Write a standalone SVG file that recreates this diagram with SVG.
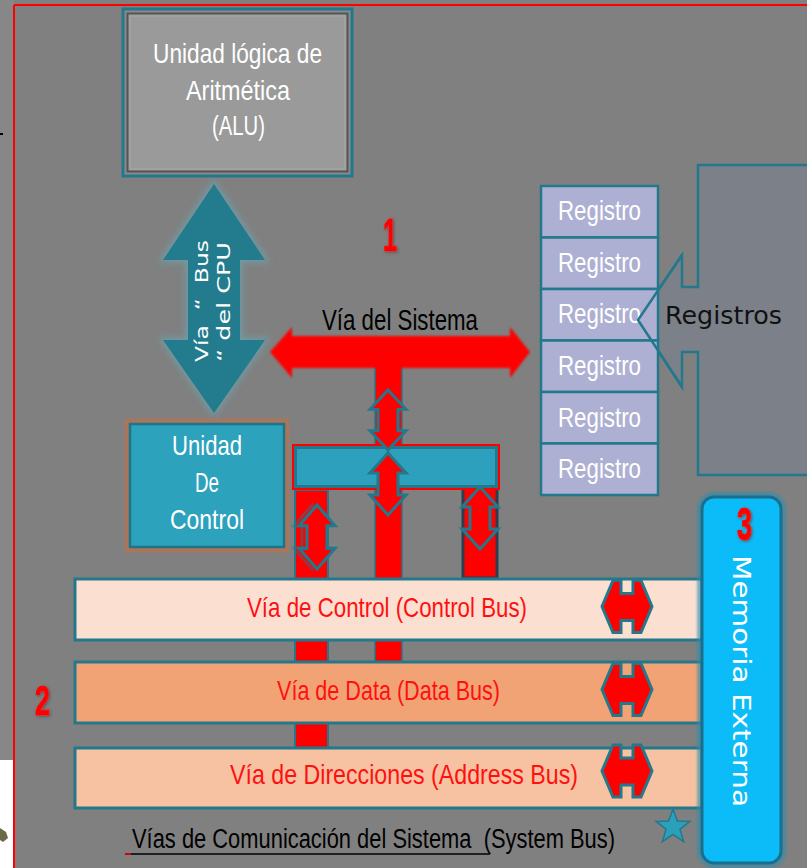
<svg xmlns="http://www.w3.org/2000/svg" width="807" height="868" viewBox="0 0 807 868">
<style>
.cond{font-family:"Liberation Sans Narrow","Liberation Sans",Arial,sans-serif}
.wide{font-family:"DejaVu Sans","Verdana",sans-serif}
.wt{fill:#ffffff}
.rt{fill:#ff1010}
.num{font-weight:bold;fill:#ff0000;stroke:#ff0000;stroke-width:1.2}
.bus{stroke:#23788c;stroke-width:3}
.reg{fill:#adb0d2;stroke:#23788c;stroke-width:2.5}
.sarrow{fill:#ff0000;stroke:#23788c;stroke-width:3;stroke-linejoin:miter}
</style>
<defs>
<filter id="blur1" x="-10%" y="-10%" width="120%" height="120%"><feGaussianBlur stdDeviation="1"/></filter>
<filter id="glow" x="-20%" y="-20%" width="140%" height="140%"><feGaussianBlur stdDeviation="3"/></filter>
<filter id="shadow" x="-30%" y="-30%" width="160%" height="160%"><feGaussianBlur in="SourceAlpha" stdDeviation="1.5" result="b"/><feOffset dx="1" dy="1" result="o"/><feFlood flood-color="#555"/><feComposite in2="o" operator="in"/><feMerge><feMergeNode/><feMergeNode in="SourceGraphic"/></feMerge></filter>
<path id="vdbl" d="M0,-31 L18,-11 L10,-11 L10,11 L18,11 L0,31 L-18,11 L-10,11 L-10,-11 L-18,-11 Z"/>
<path id="busarrow" d="M-6,-26 L-6,-13 L6,-13 L6,-26 L14,-26 L25,0 L14,26 L6,26 L6,14 L-6,14 L-6,26 L-14,26 L-25,0 L-14,-26 Z"/>
</defs>

<!-- background -->
<rect x="0" y="0" width="807" height="868" fill="#808080"/>
<rect x="0" y="0" width="14" height="868" fill="#878787"/>
<rect x="0" y="760" width="13" height="108" fill="#ffffff"/>
<path d="M0,828 L6,832 L8,838 L3,842 L0,840 Z" fill="#6b6b4a"/>
<line x1="0" y1="134" x2="3" y2="134" stroke="#000" stroke-width="2"/>
<line x1="14" y1="5" x2="807" y2="5" stroke="#ff0000" stroke-width="2"/>
<line x1="14" y1="5" x2="14" y2="868" stroke="#ff0000" stroke-width="2"/>

<!-- Registros callout -->
<g id="registros-callout">
<path d="M812,165 L698,165 L698,287 L682,287 L682,255 L638,320 L682,387 L682,352 L698,352 L698,475 L812,475" fill="#7c8088" stroke="#23788c" stroke-width="2.5"/>
<text class="wide" x="665" y="324" font-size="24" fill="#111" textLength="117" lengthAdjust="spacingAndGlyphs">Registros</text>
</g>

<!-- connectors -->
<g id="connectors">
<rect x="295" y="490" width="33" height="258" fill="#ff0000" stroke="#23788c" stroke-width="2"/>
<rect x="375" y="365" width="27" height="297" fill="#ff0000" stroke="#23788c" stroke-width="1.5"/>
<rect x="463" y="488" width="34" height="90" fill="#ff0000" stroke="#2d3e50" stroke-width="3"/>
<path d="M270,352 L292,327 L292,336 L510,336 L510,327 L530,352 L510,378 L510,368 L402,368 L375,368 L292,368 L292,378 Z" fill="#ff0000" filter="url(#blur1)"/>
<rect x="376" y="360" width="25" height="12" fill="#ff0000"/>
<g id="cpu-bus">
<path d="M214,184 L265,260 L240,260 L240,340 L265,340 L214,413 L163,340 L188,340 L188,260 L163,260 Z" fill="#6f9aa3" stroke="#6f9aa3" stroke-width="5" filter="url(#glow)"/>
<path d="M214,184 L265,260 L240,260 L240,340 L265,340 L214,413 L163,340 L188,340 L188,260 L163,260 Z" fill="#237b8e"/>
<text class="wide wt" transform="translate(208,362) rotate(-90)" font-size="18" textLength="122" lengthAdjust="spacingAndGlyphs" xml:space="preserve">Vía  “  Bus</text>
<text class="wide wt" transform="translate(230,362) rotate(-90)" font-size="18" textLength="120" lengthAdjust="spacingAndGlyphs">“ del CPU</text>
</g>
<g id="interface-bar">
<rect x="292" y="444" width="208" height="46" fill="#ff0000"/>
<rect x="295.5" y="447.5" width="201" height="39" fill="#2ca0bc" stroke="#23788c" stroke-width="3"/>
</g>
<use href="#vdbl" class="sarrow" transform="translate(388,420) scale(1,0.97)"/>
<use href="#vdbl" class="sarrow" transform="translate(388,484)"/>
<use href="#vdbl" class="sarrow" transform="translate(312,537) scale(1,1.03)" opacity="0.45"/>
<use href="#vdbl" class="sarrow" transform="translate(317,537) scale(1,1.03)"/>
<use href="#vdbl" class="sarrow" transform="translate(480,518)"/>
</g>

<!-- ALU -->
<g id="alu">
<rect x="123" y="9" width="229" height="167" fill="#8a8a8a" stroke="#23788c" stroke-width="3"/>
<rect x="127.5" y="13.5" width="220" height="158" fill="#9a9a9a" stroke="#555" stroke-width="2"/>
<rect x="130" y="16" width="215" height="153" fill="none" stroke="#a8a8a8" stroke-width="1"/>
<text class="cond wt" x="153" y="63" font-size="28" textLength="169" lengthAdjust="spacingAndGlyphs">Unidad lógica de</text>
<text class="cond wt" x="186" y="100" font-size="28" textLength="104" lengthAdjust="spacingAndGlyphs">Aritmética</text>
<text class="cond wt" x="212" y="135" font-size="28" textLength="53" lengthAdjust="spacingAndGlyphs">(ALU)</text>
</g>

<text class="cond num" x="383" y="251" font-size="46" textLength="14" lengthAdjust="spacingAndGlyphs" filter="url(#shadow)">1</text>
<text class="cond" x="322" y="330" font-size="29" fill="#000" textLength="156" lengthAdjust="spacingAndGlyphs">Vía del Sistema</text>

<!-- Unidad de Control -->
<g id="control-unit">
<rect x="127" y="421" width="160" height="129" fill="none" stroke="#c0714d" stroke-width="4" opacity="0.8" filter="url(#blur1)"/>
<rect x="130" y="424" width="154" height="123" fill="#2ca2bd" stroke="#1f7488" stroke-width="2.5"/>
<text class="cond wt" x="172" y="455" font-size="28" textLength="70" lengthAdjust="spacingAndGlyphs">Unidad</text>
<text class="cond wt" x="195" y="492" font-size="28" textLength="24" lengthAdjust="spacingAndGlyphs">De</text>
<text class="cond wt" x="170" y="529" font-size="28" textLength="74" lengthAdjust="spacingAndGlyphs">Control</text>
</g>

<!-- Registers -->
<g id="registers">
<rect class="reg" x="541" y="186" width="117" height="51.5"/>
<rect class="reg" x="541" y="237.5" width="117" height="51.5"/>
<rect class="reg" x="541" y="289" width="117" height="51.5"/>
<rect class="reg" x="541" y="340.5" width="117" height="51.5"/>
<rect class="reg" x="541" y="392" width="117" height="51.5"/>
<rect class="reg" x="541" y="443.5" width="117" height="51.5"/>
<text class="cond wt" x="558" y="220" font-size="28" textLength="83" lengthAdjust="spacingAndGlyphs">Registro</text>
<text class="cond wt" x="558" y="272" font-size="28" textLength="83" lengthAdjust="spacingAndGlyphs">Registro</text>
<text class="cond wt" x="558" y="323" font-size="28" textLength="83" lengthAdjust="spacingAndGlyphs">Registro</text>
<text class="cond wt" x="558" y="375" font-size="28" textLength="83" lengthAdjust="spacingAndGlyphs">Registro</text>
<text class="cond wt" x="558" y="427" font-size="28" textLength="83" lengthAdjust="spacingAndGlyphs">Registro</text>
<text class="cond wt" x="558" y="478" font-size="28" textLength="83" lengthAdjust="spacingAndGlyphs">Registro</text>
</g>
<path d="M682,255 L638,320 L682,387" fill="none" stroke="#23788c" stroke-width="2.5"/>

<!-- Buses -->
<g id="control-bus">
<rect class="bus" x="75" y="579" width="627" height="61" fill="#fbe0d2"/>
<text class="cond rt" x="247" y="617" font-size="28" textLength="280" lengthAdjust="spacingAndGlyphs">Vía de Control (Control Bus)</text>
<use href="#busarrow" class="sarrow" transform="translate(627,606.5)"/>
</g>
<g id="data-bus">
<rect class="bus" x="75" y="662" width="627" height="61" fill="#f2a376"/>
<text class="cond rt" x="277" y="700" font-size="28" textLength="223" lengthAdjust="spacingAndGlyphs">Vía de Data (Data Bus)</text>
<use href="#busarrow" class="sarrow" transform="translate(627,689.5)"/>
</g>
<g id="address-bus">
<rect class="bus" x="75" y="748" width="627" height="60" fill="#f6c2a2"/>
<text class="cond rt" x="230" y="784" font-size="28" textLength="348" lengthAdjust="spacingAndGlyphs">Vía de Direcciones (Address Bus)</text>
<use href="#busarrow" class="sarrow" transform="translate(627,771)"/>
</g>
<text class="cond num" x="35" y="715" font-size="42" textLength="15" lengthAdjust="spacingAndGlyphs" filter="url(#shadow)">2</text>

<!-- Memoria Externa -->
<g id="memoria">
<rect x="700" y="495" width="83" height="370" rx="14" fill="none" stroke="#2b8fb0" stroke-width="6" opacity="0.6" filter="url(#blur1)"/>
<rect x="702" y="497" width="79" height="366" rx="12" fill="#0bbcf8" stroke="#1a6f8e" stroke-width="3"/>
<text class="cond num" x="737" y="540" font-size="46" textLength="15" lengthAdjust="spacingAndGlyphs" filter="url(#shadow)">3</text>
<text class="wide wt" transform="translate(733,555) rotate(90)" font-size="25" textLength="252" lengthAdjust="spacingAndGlyphs">Memoria Externa</text>
</g>

<polygon points="673,809 677.4,821 690,821.4 680,829.2 683.6,841.6 673,834.4 662.4,841.6 666,829.2 656,821.4 668.6,821" fill="#2aa0bb" stroke="#23788c" stroke-width="1.5"/>

<g id="system-bus-label">
<text class="cond" x="132" y="848" font-size="27" fill="#000" textLength="483" lengthAdjust="spacingAndGlyphs" xml:space="preserve">Vías de Comunicación del Sistema  (System Bus)</text>
<line x1="125" y1="854" x2="490" y2="854" stroke="#000" stroke-width="1.5"/>
<line x1="125" y1="854" x2="131" y2="854" stroke="#ff0000" stroke-width="1.5"/>
</g>
</svg>
